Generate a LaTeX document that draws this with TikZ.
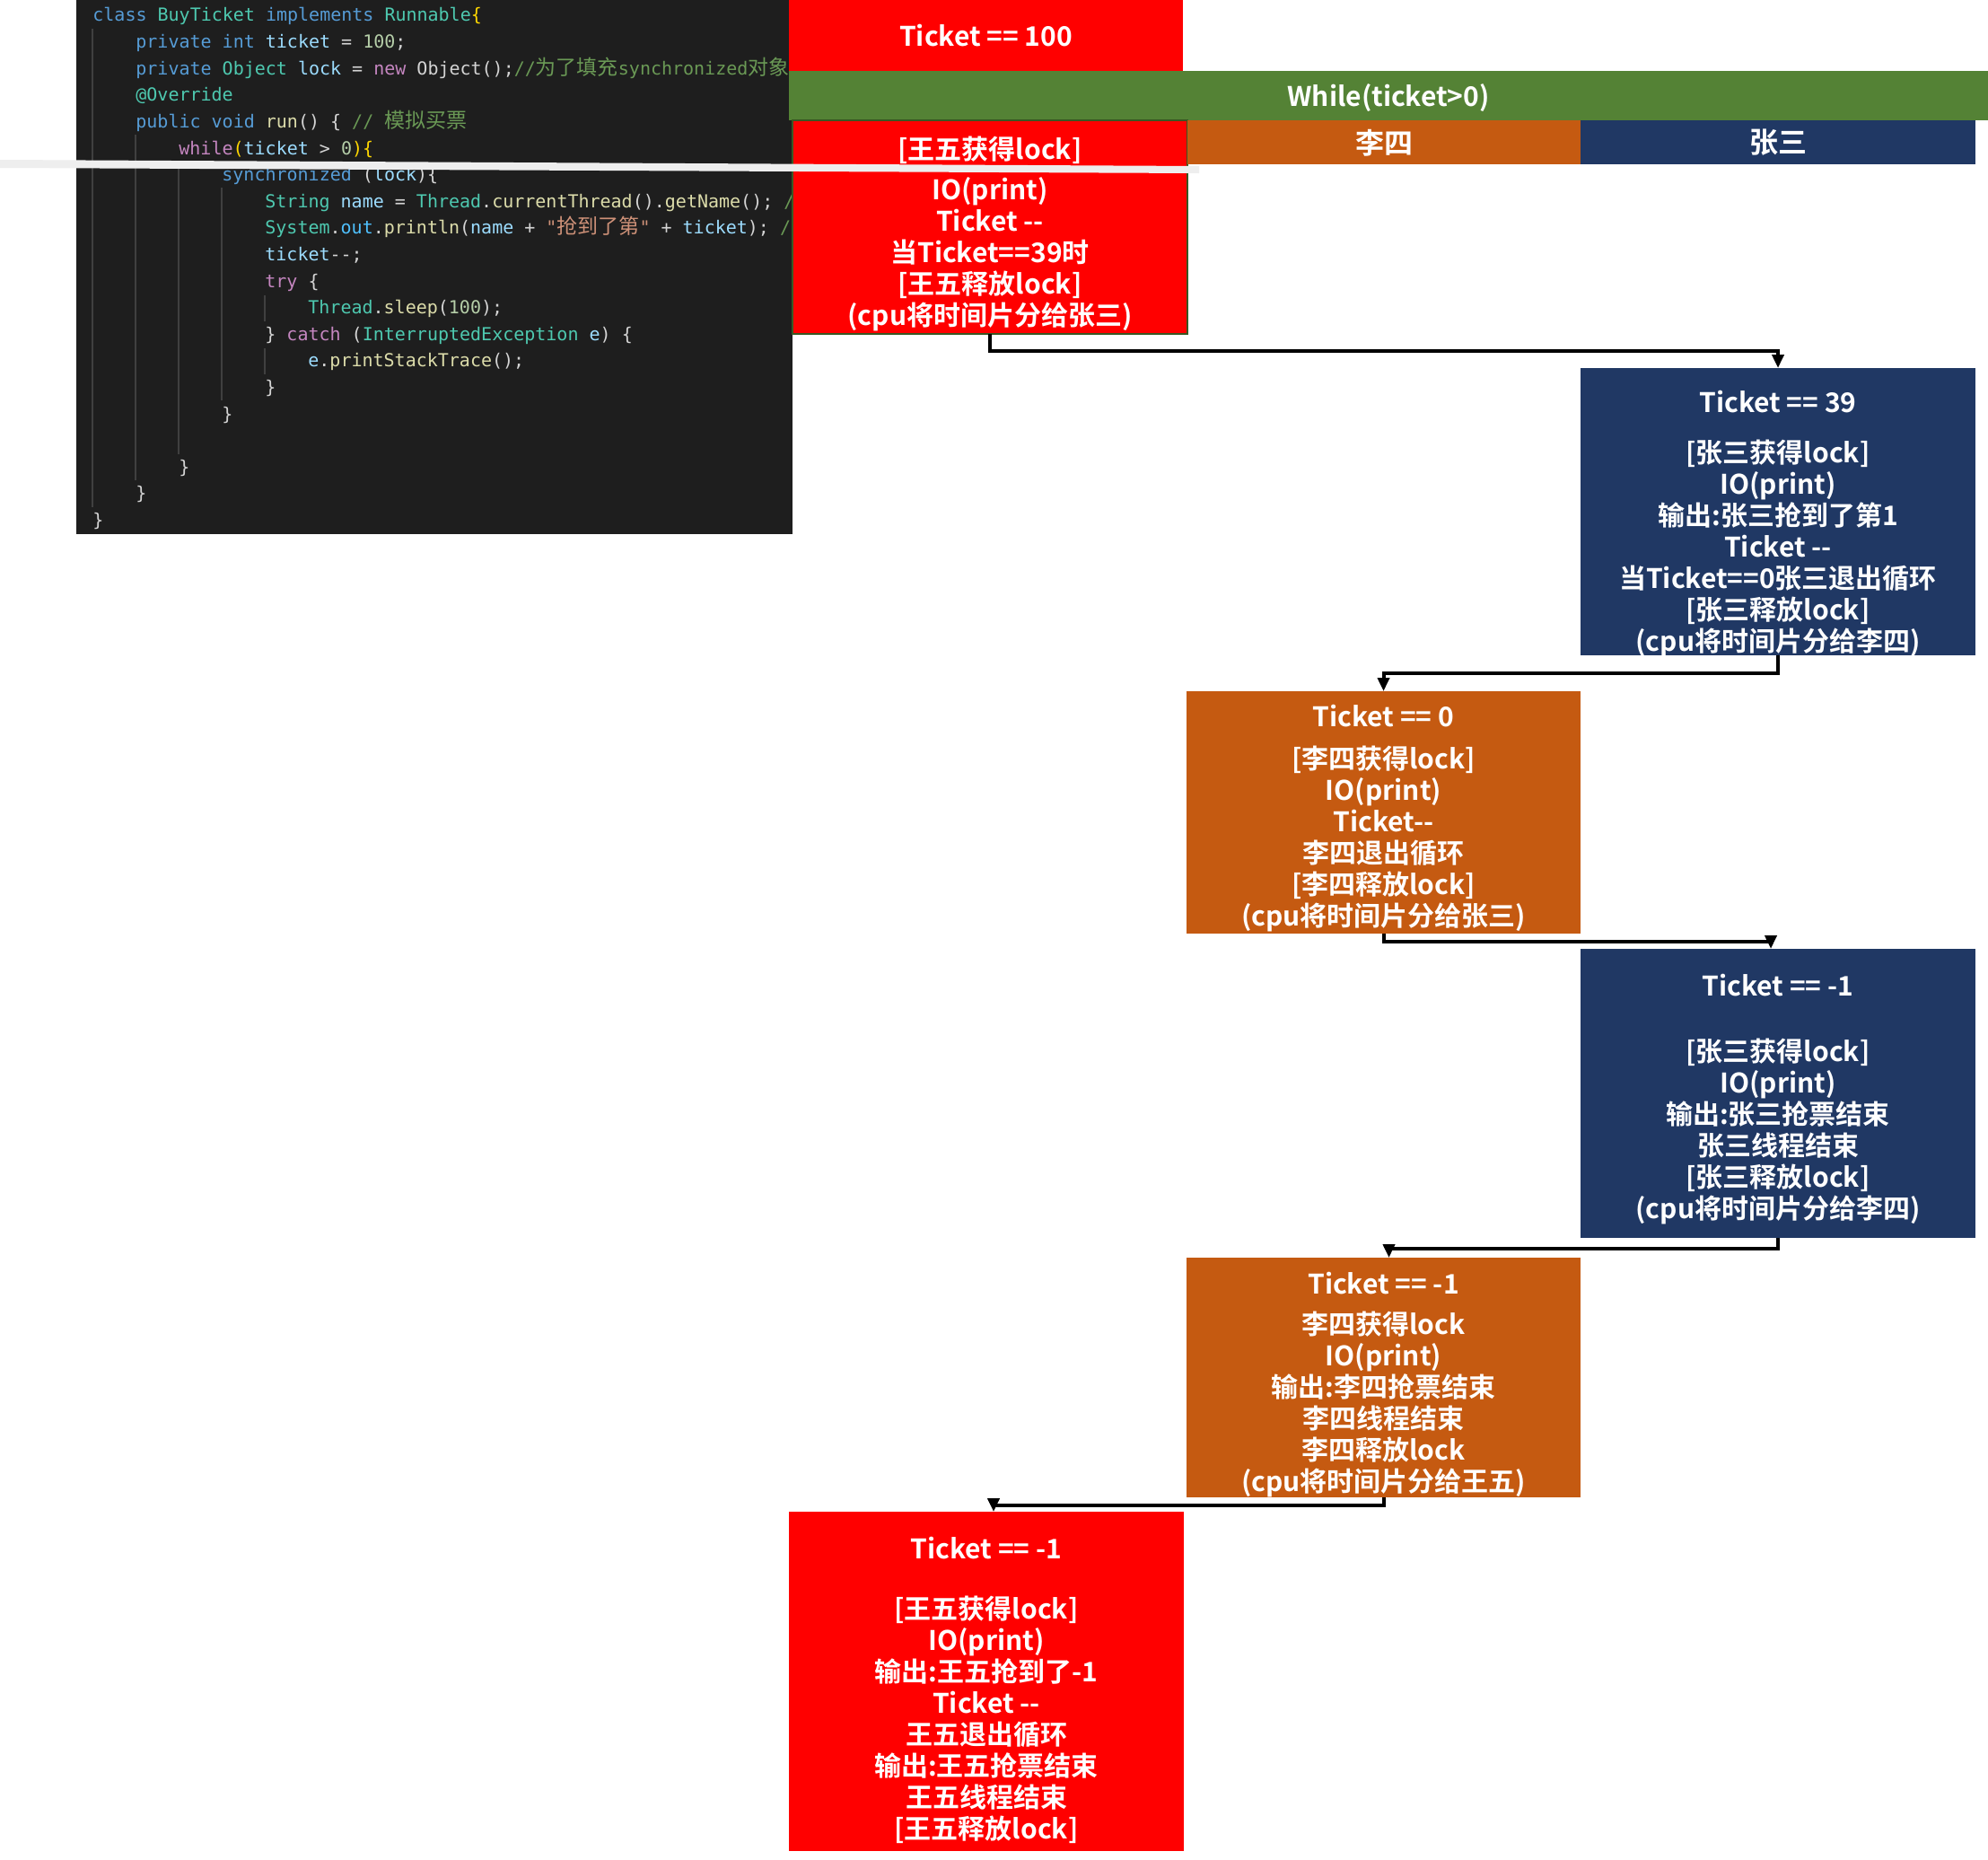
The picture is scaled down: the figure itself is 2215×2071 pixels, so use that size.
\documentclass[tikz,border=0pt]{standalone}
\usepackage{fontspec}
\setmainfont{Noto Sans CJK SC}[BoldFont={Noto Sans CJK SC Bold}]
\setmonofont{DejaVu Sans Mono}
\newfontfamily\cjkreg{Noto Sans CJK SC}
\usetikzlibrary{arrows.meta}
\definecolor{codebg}{HTML}{1E1E1E}
\definecolor{guidec}{HTML}{404040}
\definecolor{ckw}{HTML}{569CD6}
\definecolor{cty}{HTML}{4EC9B0}
\definecolor{cva}{HTML}{9CDCFE}
\definecolor{cnm}{HTML}{B5CEA8}
\definecolor{ccm}{HTML}{6A9955}
\definecolor{cct}{HTML}{C586C0}
\definecolor{cfn}{HTML}{DCDCAA}
\definecolor{cst}{HTML}{CE9178}
\definecolor{cco}{HTML}{4FC1FF}
\definecolor{cpn}{HTML}{D4D4D4}
\definecolor{cbr}{HTML}{FFD700}
\definecolor{boxred}{HTML}{FF0000}
\definecolor{boxgreen}{HTML}{548235}
\definecolor{boxorange}{HTML}{C55A11}
\definecolor{boxnavy}{HTML}{203864}
\definecolor{borderg}{HTML}{385723}
\definecolor{bandgray}{HTML}{EEEEEE}
\newcommand{\zh}[1]{{\cjkreg\fontsize{11.5}{14}\selectfont #1}}
\newcommand{\jKw}[1]{\textcolor{ckw}{#1}}
\newcommand{\jTy}[1]{\textcolor{cty}{#1}}
\newcommand{\jVa}[1]{\textcolor{cva}{#1}}
\newcommand{\jNm}[1]{\textcolor{cnm}{#1}}
\newcommand{\jCm}[1]{\textcolor{ccm}{#1}}
\newcommand{\jCt}[1]{\textcolor{cct}{#1}}
\newcommand{\jFn}[1]{\textcolor{cfn}{#1}}
\newcommand{\jSt}[1]{\textcolor{cst}{#1}}
\newcommand{\jCo}[1]{\textcolor{cco}{#1}}
\newcommand{\jPu}[1]{\textcolor{cpn}{#1}}
\newcommand{\jBr}[1]{\textcolor{cbr}{#1}}
\begin{document}
\begin{tikzpicture}[x=0.5pt,y=-0.5pt,
  bx/.style={inner sep=0pt, outer sep=0pt, draw=none},
  txt/.style={text=white, font=\bfseries\fontsize{15}{17.5}\selectfont, align=center, inner sep=0pt},
  hdr/.style={text=white, font=\bfseries\fontsize{16}{18}\selectfont, inner sep=0pt},
  code/.style={anchor=base west, inner sep=0pt, font=\ttfamily\fontsize{10}{12}\selectfont, text=cpn},
  guide/.style={draw=guidec, line width=0.6pt},
  conn/.style={draw=black, line width=2pt, -{Triangle[length=7.5pt,width=6.5pt]}}
]
\useasboundingbox (0,0) rectangle (2215,2071);
\fill[white] (0,0) rectangle (2215,2071);

% code panel
\fill[codebg] (85,0) rectangle (883,595);
\begin{scope}
\clip (85,0) rectangle (883,595);
\draw[guide] (103,32) -- (103,565);
\draw[guide] (151,150) -- (151,535);
\draw[guide] (199,180) -- (199,506);
\draw[guide] (247,209) -- (247,446);
\draw[guide] (295,329) -- (295,358);
\draw[guide] (295,388) -- (295,417);
\node[code] (c0) at (103,24) {\jKw{class} \jTy{BuyTicket} \jKw{implements} \jTy{Runnable}\jBr{\{}};
\node[code] (c1) at (151,53.6) {\jKw{private} \jKw{int} \jVa{ticket} \jPu{=} \jNm{100}\jPu{;}};
\node[code] (c2) at (151,83.2) {\jKw{private} \jTy{Object} \jVa{lock} \jPu{=} \jCt{new} \jPu{Object();}\jCm{//\zh{为了填充}synchronized\zh{对象}}};
\node[code] (c3) at (151,112.8) {\jTy{@Override}};
\node[code] (c4) at (151,142.4) {\jKw{public} \jKw{void} \jFn{run}\jPu{()} \jPu{\{} \jCm{// \zh{模拟买票}}};
\node[code] (c5) at (199,172) {\jCt{while}\jBr{(}\jVa{ticket} \jPu{>} \jNm{0}\jBr{)\{}};
\node[code] (c6) at (247,201.6) {\jKw{synchronized} \jPu{(}\jVa{lock}\jPu{)\{}};
\node[code] (c7) at (295,231.2) {\jTy{String} \jVa{name} \jPu{=} \jTy{Thread}\jPu{.}\jFn{currentThread}\jPu{().}\jFn{getName}\jPu{();} \jCm{/}};
\node[code] (c8) at (295,260.8) {\jTy{System}\jPu{.}\jCo{out}\jPu{.}\jFn{println}\jPu{(}\jVa{name} \jPu{+} \jSt{"\zh{抢到了第}"} \jPu{+} \jVa{ticket}\jPu{);} \jCm{/}};
\node[code] (c9) at (295,290.4) {\jVa{ticket}\jPu{-{}-;}};
\node[code] (c10) at (295,320) {\jCt{try} \jPu{\{}};
\node[code] (c11) at (343,349.6) {\jTy{Thread}\jPu{.}\jFn{sleep}\jPu{(}\jNm{100}\jPu{);}};
\node[code] (c12) at (295,379.2) {\jPu{\}} \jCt{catch} \jPu{(}\jTy{InterruptedException} \jVa{e}\jPu{)} \jPu{\{}};
\node[code] (c13) at (343,408.8) {\jVa{e}\jPu{.}\jFn{printStackTrace}\jPu{();}};
\node[code] (c14) at (295,438.4) {\jPu{\}}};
\node[code] (c15) at (247,468) {\jPu{\}}};
\node[code] (c17) at (199,527.2) {\jPu{\}}};
\node[code] (c18) at (151,556.8) {\jPu{\}}};
\node[code] (c19) at (103,586.4) {\jPu{\}}};
\end{scope}

% header boxes
\node[bx, fill=boxred, minimum width=219.5pt, minimum height=39.5pt] (t0) at (1098.5,39.5) {};
\node[bx, fill=boxgreen, minimum width=668pt, minimum height=27.5pt] (g) at (1547,106.5) {};
\node[bx, fill=boxred, draw=borderg, line width=1pt, minimum width=220pt, minimum height=119pt] (w1) at (1103,253) {};
\node[bx, fill=boxorange, minimum width=219pt, minimum height=24.5pt] (lh) at (1542,158.5) {};
\node[bx, fill=boxnavy, minimum width=220pt, minimum height=24.5pt] (zh) at (1981,158.5) {};

% flow boxes
\node[bx, fill=boxnavy, minimum width=220pt, minimum height=160pt] (z1) at (1981,570) {};
\node[bx, fill=boxorange, minimum width=219.5pt, minimum height=135pt] (l1) at (1541.5,905) {};
\node[bx, fill=boxnavy, minimum width=220pt, minimum height=161pt] (z2) at (1981,1218) {};
\node[bx, fill=boxorange, minimum width=219.5pt, minimum height=133.5pt] (l2) at (1541.5,1534.5) {};
\node[bx, fill=boxred, minimum width=220pt, minimum height=189pt] (w2) at (1099,1873) {};

% light band
\fill[bandgray] (0,178) -- (1336,185) -- (1336,193) -- (0,187) -- cycle;

% texts
\node[txt] (t0t) at (1098.5,40) {Ticket == 100};
\node[txt] (gt) at (1547,109) {While(ticket>0)};
\node[hdr] (lht) at (1542,159) {李四};
\node[hdr] (zht) at (1981,159) {张三};
\node[txt] (w1t) at (1103,260) {{[}王五获得lock]\\[5pt] IO(print)\\ Ticket -{}-\\ 当Ticket==39时\\ {[}王五释放lock]\\ (cpu将时间片分给张三)};
\node[txt] (z1t) at (1981,584) {Ticket == 39\\[10.5pt] {[}张三获得lock]\\ IO(print)\\ 输出:张三抢到了第1\\ Ticket -{}-\\ 当Ticket==0张三退出循环\\ {[}张三释放lock]\\ (cpu将时间片分给李四)};
\node[txt] (l1t) at (1541.5,912) {Ticket == 0\\[6pt] {[}李四获得lock]\\ IO(print)\\ Ticket-{}-\\ 李四退出循环\\ {[}李四释放lock]\\ (cpu将时间片分给张三)};
\node[txt] (z2t) at (1981,1224.5) {Ticket == -1\\[19pt] {[}张三获得lock]\\ IO(print)\\ 输出:张三抢票结束\\ 张三线程结束\\ {[}张三释放lock]\\ (cpu将时间片分给李四)};
\node[txt] (l2t) at (1541.5,1543) {Ticket == -1\\[5pt] 李四获得lock\\ IO(print)\\ 输出:李四抢票结束\\ 李四线程结束\\ 李四释放lock\\ (cpu将时间片分给王五)};
\node[txt] (w2t) at (1099,1883) {Ticket == -1\\[16pt] {[}王五获得lock]\\ IO(print)\\ 输出:王五抢到了-1\\ Ticket -{}-\\ 王五退出循环\\ 输出:王五抢票结束\\ 王五线程结束\\ {[}王五释放lock]};

% connectors
\draw[conn] (w1.south) -- ++(0,19) -| (z1.north);
\draw[conn] (z1.south) -- ++(0,20) -| (l1.north);
\draw[conn] (l1.south) -- ++(0,9) -| ([xshift=-4pt]z2.north);
\draw[conn] (z2.south) -- ++(0,12) -| ([xshift=3pt]l2.north);
\draw[conn] (l2.south) -- ++(0,9) -| ([xshift=4pt]w2.north);
\end{tikzpicture}
\end{document}
